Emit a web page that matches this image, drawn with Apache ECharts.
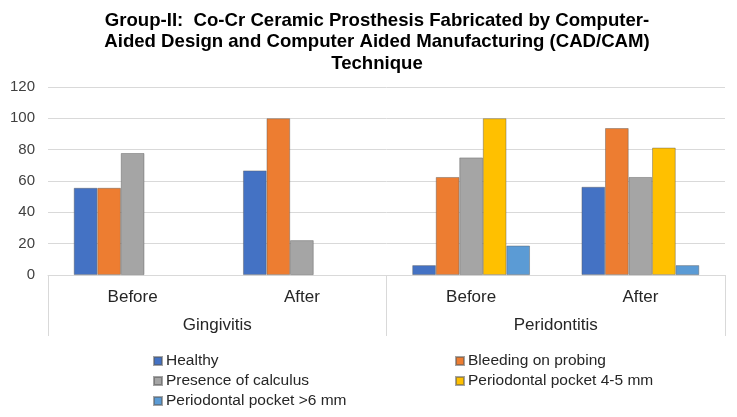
<!DOCTYPE html>
<html>
<head>
<meta charset="utf-8">
<script src="https://cdn.jsdelivr.net/npm/echarts@6/dist/echarts.min.js"></script>
<style>html,body{margin:0;padding:0;background:#fff}#c{width:737px;height:417px}</style>
</head>
<body>
<div id="c"></div>
<script>
const subCategories = ['Before', 'After', 'Before', 'After'];
const groups = ['Gingivitis', 'Peridontitis'];
const seriesNames = ['Healthy', 'Bleeding on probing', 'Presence of calculus', 'Periodontal pocket 4-5 mm', 'Periodontal pocket >6 mm'];
const healthy = [55.6, 66.7, 6.25, 56.25];
const bleeding = [55.6, 100, 62.5, 93.75];
const calculus = [77.8, 22.2, 75, 62.5];
const pocket45 = [0, 0, 100, 81.25];
const pocket6 = [0, 0, 18.75, 6.25];
const yTicks = [0, 20, 40, 60, 80, 100, 120];

const colors = ['#4472C4', '#ED7D31', '#A5A5A5', '#FFC000', '#5B9BD5'];
const values = [healthy, bleeding, calculus, pocket45, pocket6];
const font = 'Liberation Sans, Arial, sans-serif';

const legendCommon = {
  orient: 'vertical', top: 348, itemWidth: 8, itemHeight: 8, itemGap: 4, icon: 'rect',
  textStyle: {fontFamily: font, fontSize: 15.5, color: '#262626', lineHeight: 15.5, padding: [0,0,0,-1]}
};

const chart = echarts.init(document.getElementById('c'));
chart.setOption({
  animation: false,
  color: colors,
  title: {
    text: 'Group-II:  Co-Cr Ceramic Prosthesis Fabricated by Computer-\nAided Design and Computer Aided Manufacturing (CAD/CAM)\nTechnique',
    left: 372, top: 5, textAlign: 'center',
    textStyle: {fontFamily: font, fontSize: 18.6, fontWeight: 'bold', color: '#000', lineHeight: 21.5}
  },
  legend: [
    Object.assign({data: [seriesNames[0], seriesNames[2], seriesNames[4]], left: 148}, legendCommon),
    Object.assign({data: [seriesNames[1], seriesNames[3]], left: 450}, legendCommon)
  ],
  grid: {left: 48, right: 12, top: 87, bottom: 142, containLabel: false},
  xAxis: [
    {type: 'category', data: subCategories, position: 'bottom',
     axisLine: {lineStyle: {color: '#d9d9d9'}}, axisTick: {show: false},
     axisLabel: {fontFamily: font, fontSize: 17, color: '#262626', margin: 13.5}},
    {type: 'category', data: groups, position: 'bottom', offset: 0,
     axisLine: {show: false},
     axisTick: {show: true, length: 61, lineStyle: {color: '#d9d9d9'}},
     axisLabel: {fontFamily: font, fontSize: 17, color: '#262626', margin: 41.5}}
  ],
  yAxis: {type: 'value', min: 0, max: 120, interval: 20,
    axisLine: {show: false}, axisTick: {show: false},
    splitLine: {lineStyle: {color: '#d9d9d9'}},
    axisLabel: {fontFamily: font, fontSize: 15, color: '#404040', margin: 13,
      formatter: v => yTicks.includes(v) ? String(v) : ''}},
  series: seriesNames.map((n, i) => ({
    name: n, type: 'bar', xAxisIndex: 0,
    data: values[i].map(v => v === 0 ? {value: v, itemStyle: {borderWidth: 0}} : v),
    barGap: '0%', barCategoryGap: '30.5%',
    itemStyle: {color: colors[i], borderColor: 'rgba(90,90,90,0.55)', borderWidth: 0.8}
  }))
});
</script>
</body>
</html>
